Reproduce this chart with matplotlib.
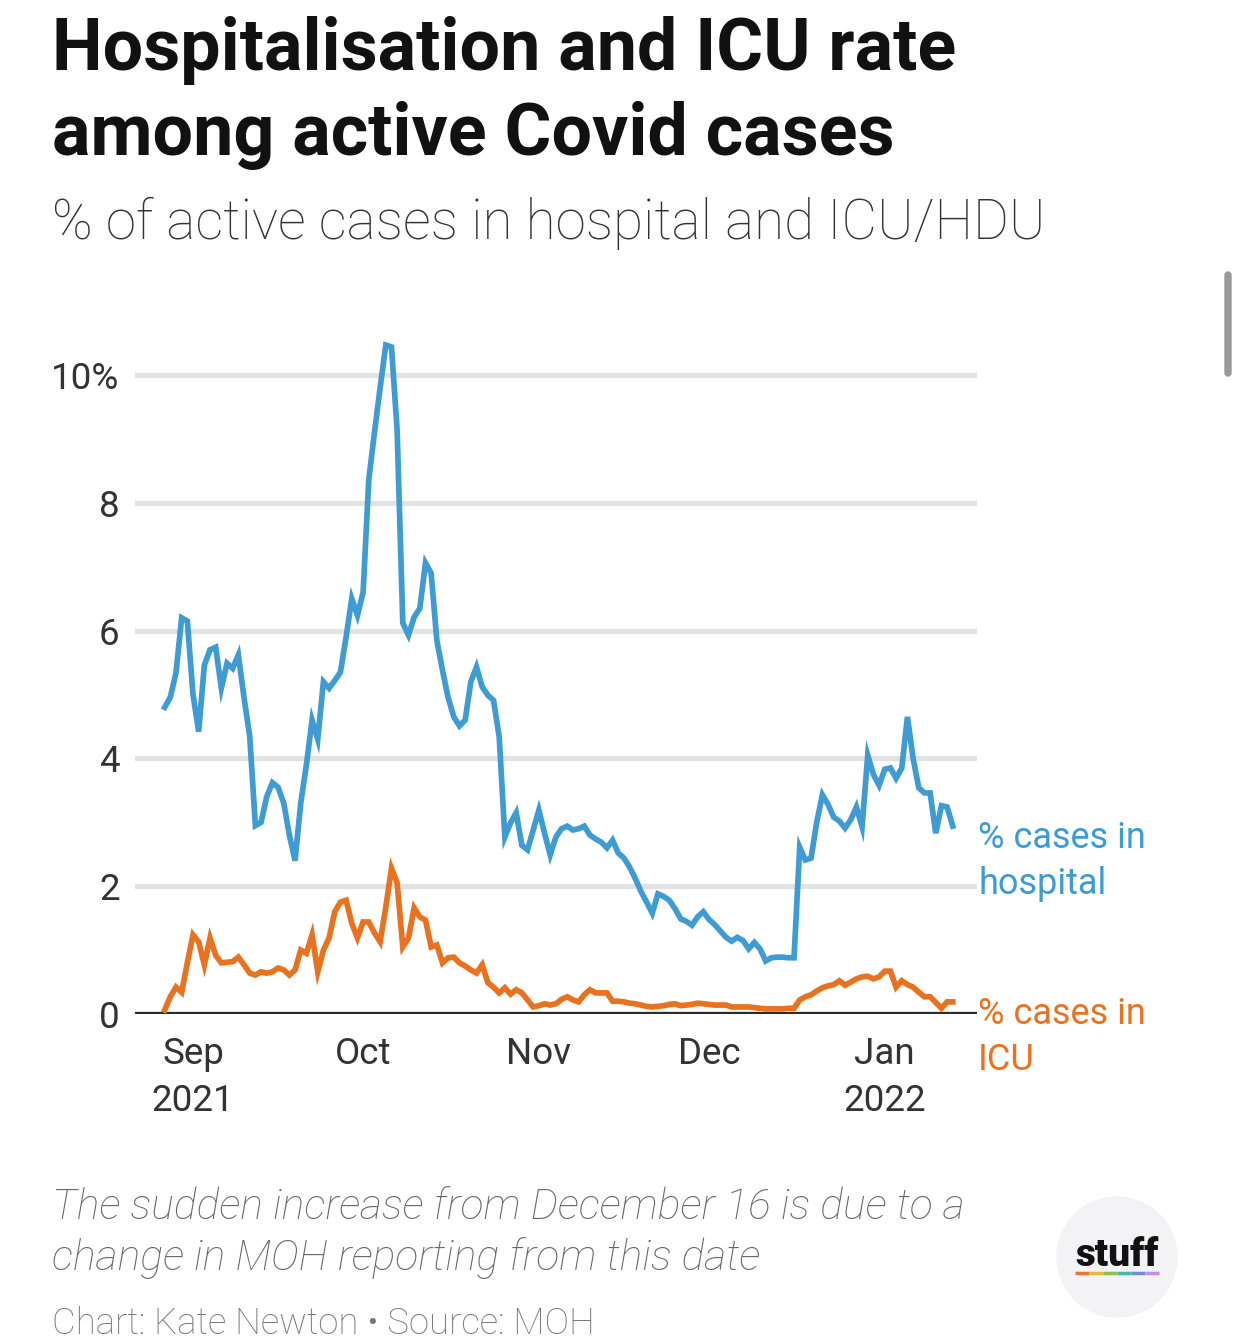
import matplotlib
matplotlib.use("Agg")
import matplotlib.pyplot as plt
from matplotlib.patches import Circle, FancyBboxPatch
import numpy as np
import pandas as pd

start_date = "2021-08-27"

hospital = [4.80, 4.96, 5.34, 6.20, 6.15,
            5.00, 4.42, 5.46, 5.70, 5.74, 5.10, 5.49, 5.41, 5.62, 4.95,
            4.35, 2.95, 3.00, 3.40, 3.62, 3.55, 3.30, 2.80, 2.40, 3.30,
            3.90, 4.60, 4.30, 5.20, 5.10, 5.22, 5.35, 5.90, 6.50, 6.24,
            6.60, 8.36, 9.10, 9.80, 10.47, 10.44, 9.14, 6.12, 5.93, 6.21,
            6.35, 7.06, 6.90, 5.85, 5.38, 4.95, 4.65, 4.51, 4.60, 5.20,
            5.43, 5.12, 4.99, 4.91, 4.34, 2.77, 2.99, 3.15, 2.64, 2.57,
            2.88, 3.19, 2.83, 2.49, 2.77, 2.90, 2.94, 2.88, 2.90, 2.94,
            2.80, 2.74, 2.69, 2.60, 2.72, 2.52, 2.44, 2.30, 2.12, 1.92,
            1.75, 1.58, 1.88, 1.84, 1.78, 1.65, 1.49, 1.45, 1.39, 1.52,
            1.60, 1.48, 1.40, 1.30, 1.20, 1.14, 1.20, 1.15, 1.02, 1.12,
            1.02, 0.83, 0.88, 0.89, 0.89, 0.88, 0.88, 2.61, 2.41, 2.44,
            3.00, 3.43, 3.28, 3.08, 3.02, 2.91, 3.04, 3.24, 2.93, 4.05,
            3.75, 3.58, 3.83, 3.85, 3.69, 3.85, 4.65, 4.00, 3.54, 3.46,
            3.46, 2.83, 3.26, 3.24, 2.94]

icu = [0.06, 0.27, 0.42, 0.34, 0.80,
       1.24, 1.13, 0.77, 1.19, 0.92, 0.80, 0.81, 0.82, 0.89, 0.77,
       0.64, 0.61, 0.66, 0.64, 0.66, 0.72, 0.69, 0.61, 0.69, 1.00,
       0.95, 1.24, 0.66, 1.00, 1.19, 1.60, 1.75, 1.78, 1.42, 1.19,
       1.44, 1.44, 1.27, 1.13, 1.67, 2.28, 2.05, 1.05, 1.19, 1.66,
       1.52, 1.47, 1.05, 1.08, 0.80, 0.88, 0.89, 0.80, 0.75, 0.69,
       0.64, 0.77, 0.49, 0.42, 0.33, 0.41, 0.31, 0.38, 0.33, 0.22,
       0.11, 0.13, 0.16, 0.14, 0.16, 0.23, 0.27, 0.22, 0.19, 0.30,
       0.38, 0.33, 0.33, 0.33, 0.20, 0.20, 0.19, 0.17, 0.16, 0.14,
       0.12, 0.11, 0.12, 0.13, 0.15, 0.16, 0.13, 0.14, 0.15, 0.17,
       0.16, 0.15, 0.14, 0.14, 0.14, 0.11, 0.11, 0.11, 0.11, 0.10,
       0.09, 0.08, 0.08, 0.08, 0.08, 0.09, 0.09, 0.22, 0.27, 0.30,
       0.36, 0.41, 0.44, 0.46, 0.52, 0.45, 0.50, 0.55, 0.58, 0.59,
       0.55, 0.58, 0.67, 0.67, 0.42, 0.52, 0.46, 0.42, 0.34, 0.27,
       0.27, 0.18, 0.09, 0.19, 0.19]

y_ticks = [0, 2, 4, 6, 8, 10]
y_labels = ["0", "2", "4", "6", "8", "10%"]
x_tick_dates = ["2021-09-01", "2021-10-01", "2021-11-01", "2021-12-01", "2022-01-01"]
x_tick_labels = ["Sep\n2021", "Oct", "Nov", "Dec", "Jan\n2022"]

title_lines = ["Hospitalisation and ICU rate", "among active Covid cases"]
subtitle = "% of active cases in hospital and ICU/HDU"
note = "The sudden increase from December 16 is due to a\nchange in MOH reporting from this date"
source = "Chart: Kate Newton \u2022 Source: MOH"
label_hosp = "% cases in\nhospital"
label_icu = "% cases in\nICU"

BLUE = "#3f9bd3"
ORANGE = "#e8721f"
plt.rcParams['font.family'] = ['Roboto', 'DejaVu Sans']

dates = pd.date_range(start_date, periods=len(hospital), freq="D")

W, H = 1242, 1341
fig = plt.figure(figsize=(W / 100, H / 100), dpi=100)
fig.patch.set_facecolor("white")

ax_left, ax_right = 135 / W, 977 / W
ax_bottom = (H - 1014) / H
ax_top = (H - 324) / H
ax = fig.add_axes([ax_left, ax_bottom, ax_right - ax_left, ax_top - ax_bottom])
ax.set_facecolor("none")

sep1 = pd.Timestamp("2021-09-01")
ax.set_xlim(sep1 - pd.Timedelta(days=10.23), sep1 + pd.Timedelta(days=138.27))
ax.set_ylim(0, 10.8)

for yt in y_ticks[1:]:
    ax.axhline(yt, color="#e3e3e3", lw=3.8, zorder=0)
ax.axhline(0, color="#2b2b2b", lw=3.8, zorder=3)

ax.plot(dates, hospital, color=BLUE, lw=4.1, solid_joinstyle="miter", zorder=4, clip_on=False)
ax.plot(dates, icu, color=ORANGE, lw=4.1, solid_joinstyle="miter", zorder=5, clip_on=False)

for s in ax.spines.values():
    s.set_visible(False)
ax.set_yticks(y_ticks)
ax.set_yticklabels(y_labels)
ax.set_xticks(pd.to_datetime(x_tick_dates))
ax.set_xticklabels(x_tick_labels, linespacing=1.38)
ax.tick_params(axis="both", length=0, labelsize=26.5, labelcolor="#333333")
ax.tick_params(axis="y", pad=11)
ax.tick_params(axis="x", pad=16)

# direct labels
fig.text(978 / W, 1 - 861 / H, label_hosp, color=BLUE, fontsize=26,
         ha="left", va="center", linespacing=1.39)
fig.text(978 / W, 1 - 1037 / H, label_icu, color=ORANGE, fontsize=26,
         ha="left", va="center", linespacing=1.39)

# titles
fig.text(52 / W, 1 - 70 / H, title_lines[0], fontsize=51.7, fontweight="bold",
         color="#111111", ha="left", va="baseline")
fig.text(52 / W, 1 - 155 / H, title_lines[1], fontsize=51.7, fontweight="bold",
         color="#111111", ha="left", va="baseline")
fig.text(52 / W, 1 - 239 / H, subtitle, fontsize=39.4, color="#333333",
         ha="left", va="baseline", fontweight="light")
fig.text(52 / W, 1 - 1219 / H, note.split("\n")[0], fontsize=30.8, color="#666666",
         style="italic", ha="left", va="baseline", fontweight="light")
fig.text(52 / W, 1 - 1270 / H, note.split("\n")[1], fontsize=30.8, color="#666666",
         style="italic", ha="left", va="baseline", fontweight="light")
fig.text(52 / W, 1 - 1334 / H, source, fontsize=26.3, color="#777777",
         ha="left", va="baseline", fontweight="light")

# stuff logo
logo_ax = fig.add_axes([0, 0, 1, 1], zorder=-1)
logo_ax.set_xlim(0, W)
logo_ax.set_ylim(H, 0)
logo_ax.axis("off")
logo_ax.add_patch(Circle((1117, 1257), 60, color="#f3f3f5", zorder=1))
logo_ax.text(1117, 1255, "stuff", fontsize=28, fontweight="black", color="#111111",
             ha="center", va="center", zorder=2)
rainbow = ["#e07a2f", "#e8b93a", "#8cc04a", "#48b6b0", "#6d8fd6", "#c78be0"]
seg = (1159 - 1075) / len(rainbow)
for i, c in enumerate(rainbow):
    logo_ax.plot([1075 + i * seg, 1075 + (i + 1) * seg], [1273, 1273], color=c, lw=2.5,
                 solid_capstyle="butt", zorder=3)
# scrollbar of screenshot
logo_ax.add_patch(FancyBboxPatch((1225, 272), 6, 104, boxstyle="round,pad=0,rounding_size=3",
                                 color="#9a9a9a", zorder=2))

fig.savefig("out.png", dpi=100, facecolor="white")
